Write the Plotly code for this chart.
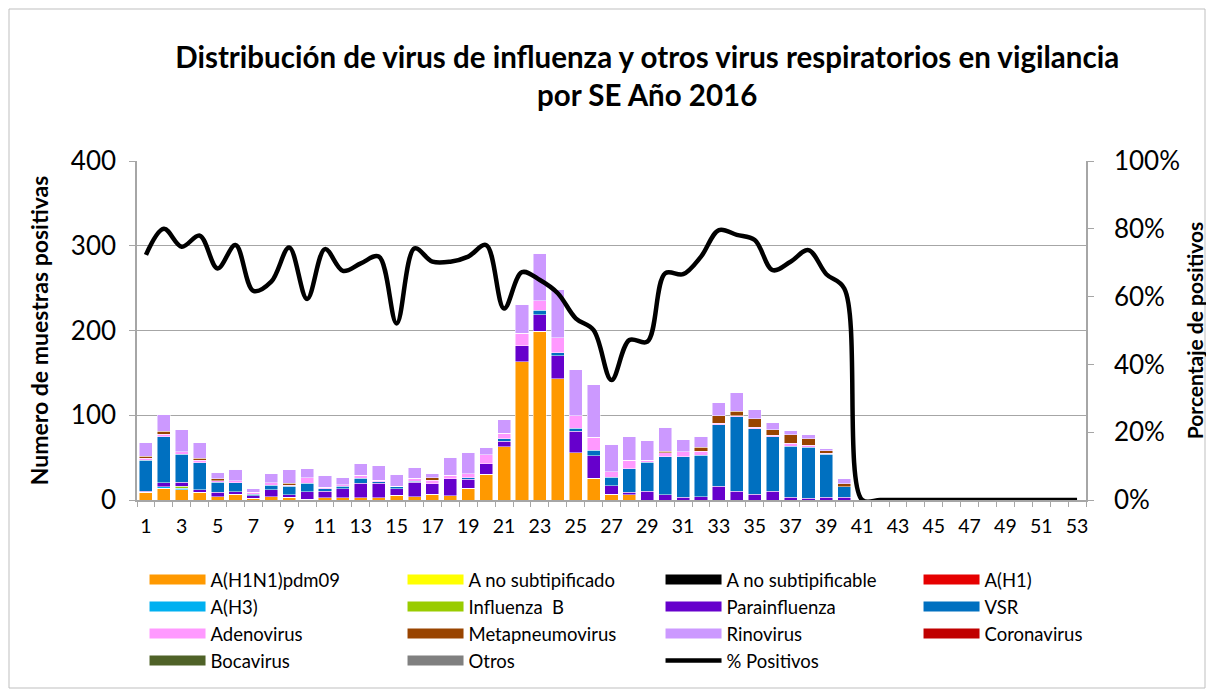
import plotly.graph_objects as go

weeks = [str(i) for i in range(1, 54)]
tick_labels = [w if int(w) % 2 == 1 else "" for w in weeks]

Z13 = [0] * 13

h1n1 = [9, 14, 12, 9, 4, 7, 2, 4, 3, 1,
        2.5, 2.5, 2.5, 2.5, 5.5, 4, 7, 5, 14, 30.5,
        63, 163, 199, 143, 56, 25.5, 7, 6, 0, 0,
        0, 0, 0, 0, 0, 0, 0, 0, 0, 0] + Z13
a_no_subtipificado = [0] * 53
a_no_subtipificable = [0] * 53
a_h1 = [0] * 53
a_h3 = [0, 1.5, 2, 0, 0, 0, 0, 0, 0, 0] + [0] * 30 + Z13
influenza_b = [0, 0, 2, 0, 0, 0, 0, 0, 0, 0] + [0] * 30 + Z13
parainfluenza = [1.5, 5, 5, 3, 5, 3, 3, 8, 3, 9,
                 8, 11, 17.5, 17, 8, 17, 12, 20, 10.5, 12,
                 6.5, 19, 19.5, 27, 25, 26.5, 10, 3, 10.5, 6,
                 3, 4, 16, 10.5, 7, 10.5, 3.5, 2, 3.5, 3.5] + Z13
vsr = [36.5, 54, 33, 32, 12, 10.5, 2, 5.5, 10, 10,
       3, 3, 5.5, 2, 2, 1, 0, 0, 2, 0,
       3, 0, 5.5, 3.5, 3.5, 7, 10, 28, 34, 45,
       48, 49, 73, 87.5, 77, 64, 60, 60, 50.5, 12] + Z13
adenovirus = [2, 3, 3, 3, 2, 2, 2, 3, 1.5, 6.5,
              1.5, 1.5, 3.5, 2, 1, 3.5, 4.5, 4.5, 4.5, 11,
              6.5, 15, 11, 18, 15, 15, 6.5, 10, 2.5, 4.5,
              6, 4.5, 1.5, 1.5, 2, 2, 3.5, 2.5, 1, 0] + Z13
metapneumovirus = [2.5, 3.5, 0, 2.5, 2, 0, 0, 0, 2, 0,
                   0, 0, 0, 0, 0, 0, 2.5, 0, 0, 0,
                   0, 0, 0, 0, 0, 0, 0, 0, 0, 2,
                   0, 5, 9, 5.5, 10, 6.5, 10, 8, 3, 3.5] + Z13
rinovirus = [16.5, 20, 26, 18, 8, 14, 4, 10.5, 16, 10.5,
             14, 9, 14, 17, 14, 13, 5, 21, 25.5, 9,
             15.5, 34, 56, 57, 54, 62, 32, 27.5, 23, 28.5,
             14, 13, 15, 21.5, 10.5, 8, 5.5, 4.5, 3, 6] + Z13
coronavirus = [0] * 53
bocavirus = [0] * 53
otros = [0] * 53

pct_positivos = [72.3, 80, 74.7, 78, 68.3, 75.2, 61.7, 64.4, 74.5, 59.3,
                 74, 67.6, 69.8, 71.8, 52.1, 74.2, 70.3, 70.3, 71.8, 75.2,
                 56.5, 67.2, 64.9, 61, 53.6, 50.1, 35.4, 47.2, 46.7, 66.9,
                 66.6, 71.8, 79.6, 78.2, 76.7, 67.8, 70.3, 73.7, 66.6, 62.4,
                 0] + [0] * 12

series = [
    ("A(H1N1)pdm09", h1n1, "#FF9900"),
    ("A no subtipificado", a_no_subtipificado, "#FFFF00"),
    ("A no subtipificable", a_no_subtipificable, "#000000"),
    ("A(H1)", a_h1, "#E60000"),
    ("A(H3)", a_h3, "#00B0F0"),
    ("Influenza  B", influenza_b, "#99CC00"),
    ("Parainfluenza", parainfluenza, "#6600CC"),
    ("VSR", vsr, "#0070C0"),
    ("Adenovirus", adenovirus, "#FF99FF"),
    ("Metapneumovirus", metapneumovirus, "#994400"),
    ("Rinovirus", rinovirus, "#CC99FF"),
    ("Coronavirus", coronavirus, "#C00000"),
    ("Bocavirus", bocavirus, "#4F6228"),
    ("Otros", otros, "#808080"),
]

FONT = "Lato"
W, H = 1206, 686
L, R, T, B = 129, 128, 153, 194
PW, PH = W - L - R, H - T - B

fig = go.Figure()

for name, vals, color in series:
    fig.add_trace(go.Bar(
        x=weeks, y=vals, name=name,
        marker=dict(color=color, line=dict(width=0.6, color="rgba(255,255,255,0.8)")),
        showlegend=False, legendgroup=name, yaxis="y",
    ))
    # legend proxy with a wide swatch like the original
    fig.add_trace(go.Scatter(
        x=[None], y=[None], mode="lines", name=name, legendgroup=name,
        line=dict(color=color, width=10), showlegend=True, hoverinfo="skip",
    ))

fig.add_trace(go.Scatter(
    x=weeks, y=[v / 100 for v in pct_positivos], name="% Positivos", mode="lines",
    line=dict(color="black", width=4.5, shape="spline", smoothing=1.0),
    yaxis="y2",
))

fig.update_layout(
    width=W, height=H,
    template="none",
    barmode="stack", bargap=0.27,
    paper_bgcolor="white", plot_bgcolor="white",
    margin=dict(l=L, r=R, t=T, b=B, autoexpand=False),
    font=dict(family=FONT, color="#000000"),
    title=dict(
        text="<b>Distribución de virus de influenza y otros virus respiratorios en vigilancia<br>por SE Año 2016</b>",
        x=0.530, xanchor="center", y=0.9125, yanchor="middle",
        font=dict(size=29.5, family=FONT, color="#000000"),
    ),
    xaxis=dict(
        type="category", categoryorder="array", categoryarray=weeks,
        tickmode="array", tickvals=weeks, ticktext=tick_labels,
        tickson="boundaries", ticks="outside", ticklen=5, tickcolor="#A6A6A6",
        showline=True, linecolor="#A6A6A6", linewidth=1.5,
        tickfont=dict(size=19.5, family=FONT), tickangle=0, ticklabelstandoff=8,
        showgrid=False, range=[-0.5, 52.5], automargin=False,
    ),
    yaxis=dict(
        range=[0, 400], dtick=100, tick0=0,
        showgrid=True, gridcolor="#A6A6A6", gridwidth=1.3,
        showline=True, linecolor="#A6A6A6", linewidth=1.5,
        ticks="outside", ticklen=6, tickcolor="#A6A6A6",
        tickfont=dict(size=26, family=FONT), ticklabelstandoff=8,
        title=dict(text="<b>Numero de muestras positivas</b>", font=dict(size=23, family=FONT), standoff=16),
        zeroline=False, automargin=False,
    ),
    yaxis2=dict(
        range=[0, 1], dtick=0.2, tick0=0, tickformat=".0%",
        overlaying="y", side="right", showgrid=False,
        showline=True, linecolor="#A6A6A6", linewidth=1.5,
        ticks="outside", ticklen=6, tickcolor="#A6A6A6",
        tickfont=dict(size=26, family=FONT), ticklabelstandoff=15,
        title=dict(text="<b>Porcentaje de positivos</b>", font=dict(size=21, family=FONT), standoff=9),
        zeroline=False, automargin=False,
    ),
    legend=dict(
        orientation="h", x=-0.0005, xanchor="left", y=-0.156, yanchor="top",
        entrywidth=187, entrywidthmode="pixels", itemwidth=56,
        font=dict(size=18.5, family=FONT), traceorder="normal",
        bgcolor="rgba(0,0,0,0)", borderwidth=8, bordercolor="rgba(0,0,0,0)",
    ),
    shapes=[dict(
        type="rect", xref="paper", yref="paper",
        x0=(1 - L) / PW, x1=(1197 - L) / PW,
        y0=(PH - 680 + T) / PH, y1=(PH - 1 + T) / PH,
        line=dict(color="#BFBFBF", width=1), layer="below",
    )],
)

fig.write_html("out.html")
